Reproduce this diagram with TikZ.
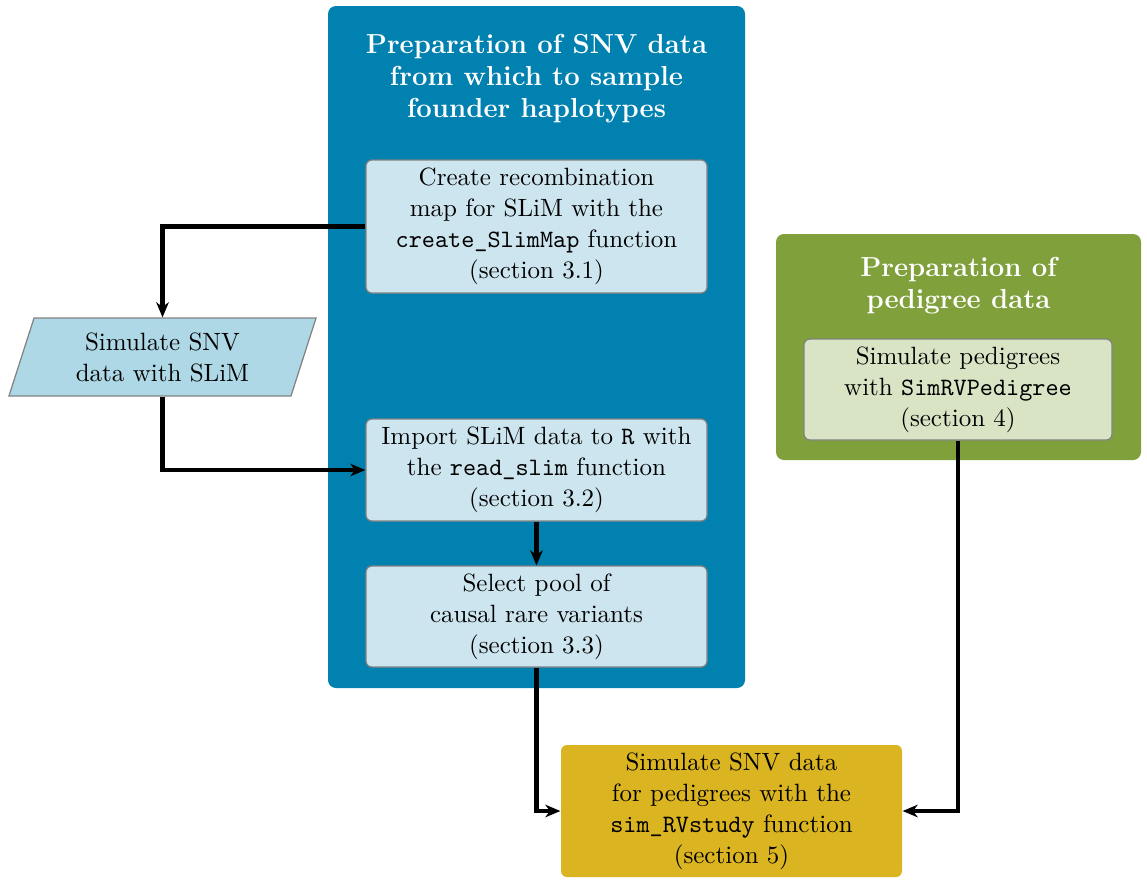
\documentclass[tikz,border=0pt]{standalone}
\usetikzlibrary{shapes.geometric,arrows.meta}
\definecolor{bigblue}{RGB}{0,129,176}
\definecolor{lightbox}{RGB}{205,229,239}
\definecolor{parfill}{RGB}{174,216,230}
\definecolor{biggreen}{RGB}{127,160,58}
\definecolor{lightgreen}{RGB}{217,228,197}
\definecolor{boxyellow}{RGB}{219,180,33}
\definecolor{edgegrey}{RGB}{130,130,130}
\begin{document}
\begin{tikzpicture}[x=0.4pt,y=-0.4pt,
  every node/.style={font=\fontsize{10}{12.4}\selectfont},
  groupbox/.style={rectangle,rounded corners=3.2pt,inner sep=0pt},
  grouptitle/.style={text=white,align=center,font=\fontsize{11}{12.8}\selectfont\bfseries,inner sep=0pt},
  stepbox/.style={rectangle,rounded corners=2.4pt,draw=edgegrey,line width=0.5pt,align=center,inner sep=0pt,minimum width=136.4pt},
  conn/.style={line width=1.75pt,-{Stealth[length=6pt,width=5pt,inset=1.8pt]}}
]
\useasboundingbox (0,0) rectangle (1147,889);
% group boxes
\node[groupbox,fill=bigblue,minimum width=166.8pt,minimum height=272.8pt] (blue) at (536.5,347) {};
\node[grouptitle] (bluetitle) at (536.5,79) {Preparation of SNV data\\from which to sample\\founder haplotypes};
\node[groupbox,fill=biggreen,minimum width=146pt,minimum height=90.4pt] (green) at (958.5,347) {};
\node[grouptitle] (greentitle) at (958.5,286) {Preparation of\\pedigree data};
% steps
\node[stepbox,fill=lightbox,minimum height=53.2pt] (box1) at (536.5,226.5)
  {Create recombination\\map for SLiM with the\\\texttt{create\_SlimMap} function\\(section 3.1)};
\node[stepbox,fill=lightbox,minimum height=40.8pt] (box2) at (536.5,470)
  {Import SLiM data to \texttt{R} with\\the \texttt{read\_slim} function\\(section 3.2)};
\node[stepbox,fill=lightbox,minimum height=40.4pt] (box3) at (536.5,616.5)
  {Select pool of\\causal rare variants\\(section 3.3)};
\node[trapezium,trapezium left angle=71,trapezium right angle=109,trapezium stretches=true,
  draw=edgegrey,line width=0.5pt,fill=parfill,align=center,inner sep=0pt,
  minimum width=123.6pt,minimum height=31.2pt] (par) at (162.5,357)
  {Simulate SNV\\data with SLiM};
\node[stepbox,fill=lightgreen,minimum width=123.2pt,minimum height=40.4pt] (ped) at (958,389.5)
  {Simulate pedigrees\\with \texttt{SimRVPedigree}\\(section 4)};
\node[stepbox,draw=none,fill=boxyellow,minimum height=52.8pt] (final) at (731.5,811)
  {Simulate SNV data\\for pedigrees with the\\\texttt{sim\_RVstudy} function\\(section 5)};
% connectors
\draw[conn] (box1.west) -| (par.north);
\draw[conn] (par.south) |- (box2.west);
\draw[conn] (box2.south) -- (box3.north);
\draw[conn] (box3.south) |- (final.west);
\draw[conn] (ped.south) |- (final.east);
\end{tikzpicture}
\end{document}
